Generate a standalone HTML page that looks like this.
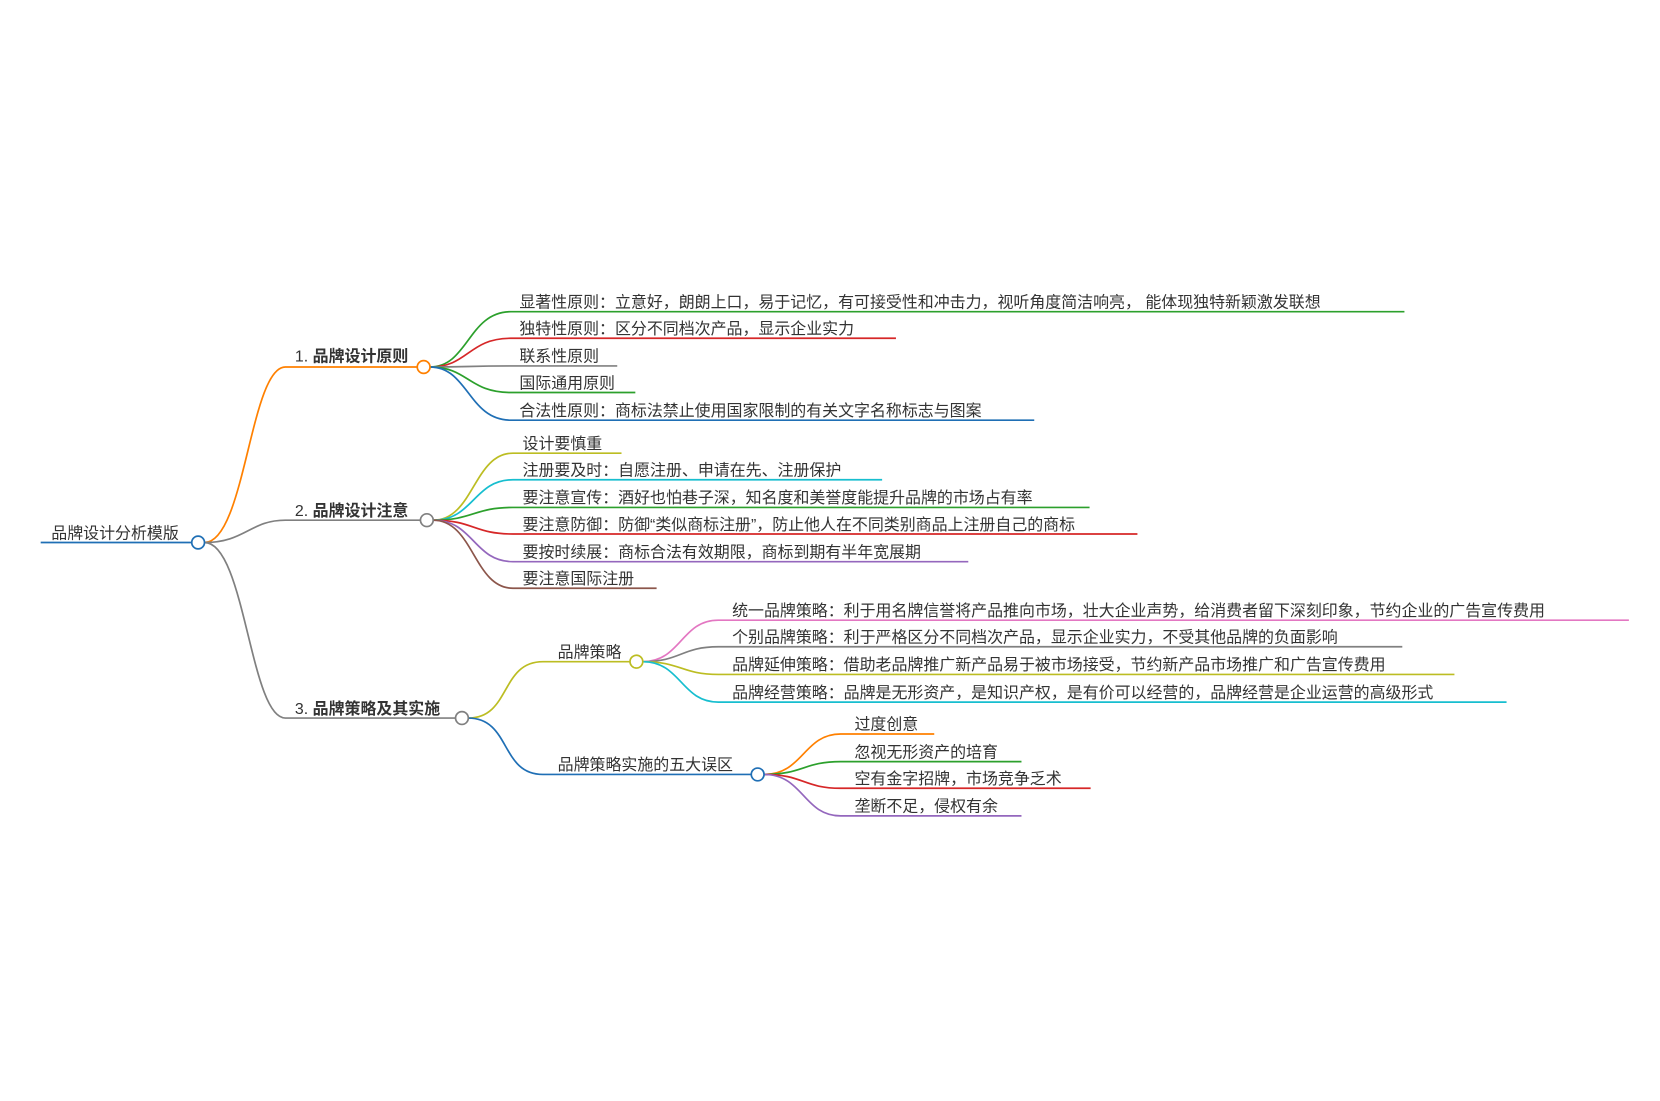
<!DOCTYPE html>
<html><head><meta charset="utf-8"><style>
html,body{margin:0;padding:0;background:#fff;}
svg{display:block}
text{font-family:"Liberation Sans","Noto Sans CJK SC",sans-serif;font-size:15px;fill:#333;}
.b{font-weight:bold;}
</style></head><body>
<svg width="1660" height="1101" viewBox="0 0 1560 1035" xmlns="http://www.w3.org/2000/svg">
<g fill="none" stroke-width="1.6">
<!-- root -->
<path d="M38 510 H180" stroke="#1f6fb5"/>
<!-- branch1 -->
<path d="M192 510 C230 510 235 345 268 345 H392" stroke="#ff8000"/>
<path d="M192 510 C230 510 235 489 268 489 H395" stroke="#808080"/>
<path d="M192 510 C230 510 235 675 268 675 H428" stroke="#808080"/>
<!-- b1 children -->
<path d="M404 345 C440 345 440 293 480 293 H1320" stroke="#2ca02c"/>
<path d="M404 345 C440 345 440 318 480 318 H842" stroke="#d62728"/>
<path d="M404 345 C440 345 440 344 480 344 H580" stroke="#808080"/>
<path d="M404 345 C440 345 440 369 480 369 H597" stroke="#2ca02c"/>
<path d="M404 345 C440 345 440 395 480 395 H972" stroke="#1f6fb5"/>
<!-- b2 children -->
<path d="M407 489 C445 489 445 426 482 426 H584" stroke="#bcbd22"/>
<path d="M407 489 C445 489 445 451 482 451 H829" stroke="#17becf"/>
<path d="M407 489 C445 489 445 477 482 477 H1024" stroke="#2ca02c"/>
<path d="M407 489 C445 489 445 502 482 502 H1069" stroke="#d62728"/>
<path d="M407 489 C445 489 445 528 482 528 H910" stroke="#9467bd"/>
<path d="M407 489 C445 489 445 553 482 553 H617" stroke="#8c564b"/>
<!-- b3 subs -->
<path d="M440 675 C480 675 470 622 510 622 H592" stroke="#bcbd22"/>
<path d="M440 675 C480 675 470 728 510 728 H706" stroke="#1f6fb5"/>
<path d="M604 622 C640 622 640 583 675 583 H1531" stroke="#e377c2"/>
<path d="M604 622 C640 622 640 608 675 608 H1318" stroke="#808080"/>
<path d="M604 622 C640 622 640 634 675 634 H1367" stroke="#bcbd22"/>
<path d="M604 622 C640 622 640 660 675 660 H1416" stroke="#17becf"/>
<path d="M718 728 C755 728 755 690 790 690 H878" stroke="#ff8000"/>
<path d="M718 728 C755 728 755 716 790 716 H960" stroke="#2ca02c"/>
<path d="M718 728 C755 728 755 741 790 741 H1025" stroke="#d62728"/>
<path d="M718 728 C755 728 755 767 790 767 H960" stroke="#9467bd"/>
</g>
<g fill="#fff" stroke-width="1.6">
<circle cx="186" cy="510" r="6" stroke="#1f6fb5"/>
<circle cx="398" cy="345" r="6" stroke="#ff8000"/>
<circle cx="401" cy="489" r="6" stroke="#808080"/>
<circle cx="434" cy="675" r="6" stroke="#808080"/>
<circle cx="598" cy="622" r="6" stroke="#bcbd22"/>
<circle cx="712" cy="728" r="6" stroke="#1f6fb5"/>
</g>
<text x="48" y="506">品牌设计分析模版</text>
<text x="277" y="340">1. <tspan class="b">品牌设计原则</tspan></text>
<text x="277" y="485">2. <tspan class="b">品牌设计注意</tspan></text>
<text x="277" y="671">3. <tspan class="b">品牌策略及其实施</tspan></text>
<text x="488" y="289">显著性原则：立意好，朗朗上口，易于记忆，有可接受性和冲击力，视听角度简洁响亮， 能体现独特新颖激发联想</text>
<text x="488" y="314">独特性原则：区分不同档次产品，显示企业实力</text>
<text x="488" y="340">联系性原则</text>
<text x="488" y="365">国际通用原则</text>
<text x="488" y="391">合法性原则：商标法禁止使用国家限制的有关文字名称标志与图案</text>
<text x="491" y="422">设计要慎重</text>
<text x="491" y="447">注册要及时：自愿注册、申请在先、注册保护</text>
<text x="491" y="473">要注意宣传：酒好也怕巷子深，知名度和美誉度能提升品牌的市场占有率</text>
<text x="491" y="498">要注意防御：防御“类似商标注册”，防止他人在不同类别商品上注册自己的商标</text>
<text x="491" y="524">要按时续展：商标合法有效期限，商标到期有半年宽展期</text>
<text x="491" y="549">要注意国际注册</text>
<text x="524" y="618">品牌策略</text>
<text x="524" y="724">品牌策略实施的五大误区</text>
<text x="688" y="579">统一品牌策略：利于用名牌信誉将产品推向市场，壮大企业声势，给消费者留下深刻印象，节约企业的广告宣传费用</text>
<text x="688" y="604">个别品牌策略：利于严格区分不同档次产品，显示企业实力，不受其他品牌的负面影响</text>
<text x="688" y="630">品牌延伸策略：借助老品牌推广新产品易于被市场接受，节约新产品市场推广和广告宣传费用</text>
<text x="688" y="656">品牌经营策略：品牌是无形资产，是知识产权，是有价可以经营的，品牌经营是企业运营的高级形式</text>
<text x="803" y="686">过度创意</text>
<text x="803" y="712">忽视无形资产的培育</text>
<text x="803" y="737">空有金字招牌，市场竞争乏术</text>
<text x="803" y="763">垄断不足，侵权有余</text>
</svg>
</body></html>
